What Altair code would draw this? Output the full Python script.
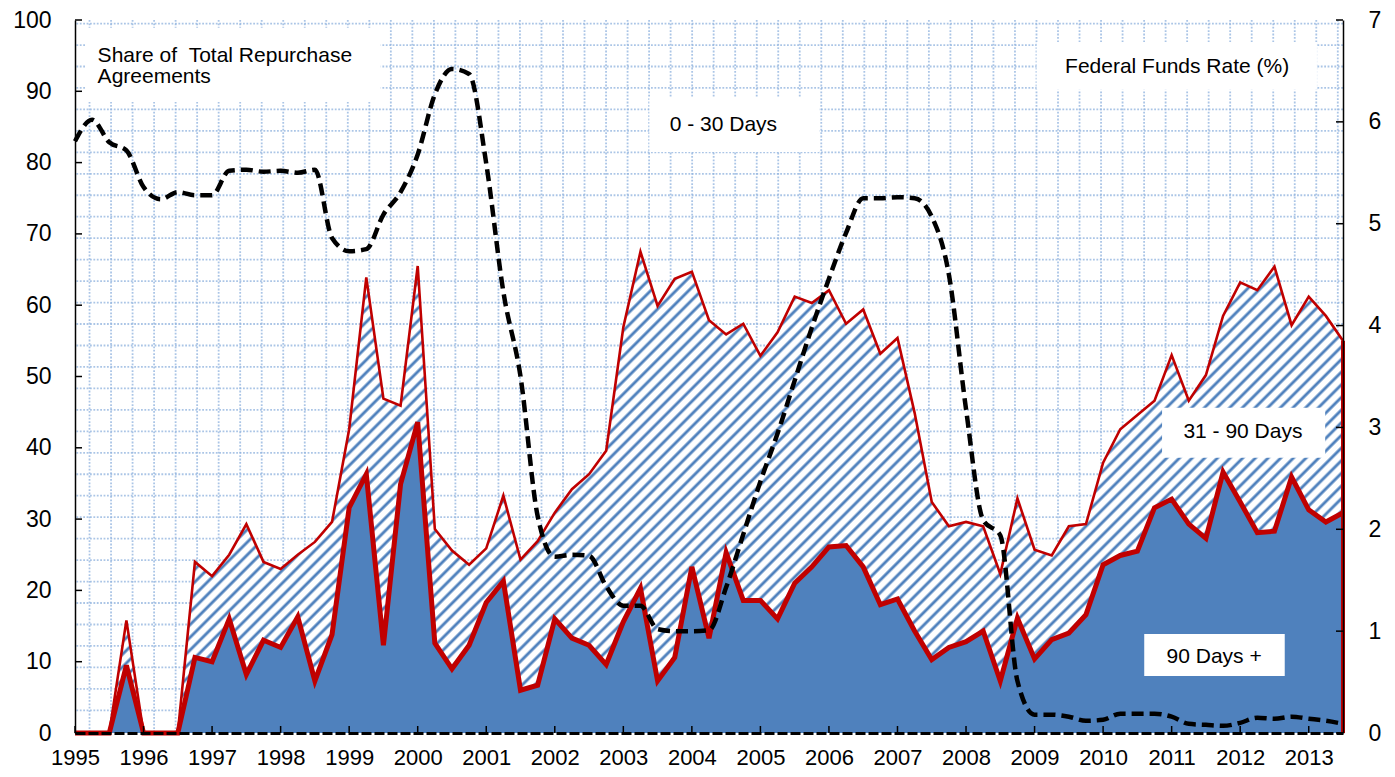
import altair as alt
import numpy as np
import pandas as pd

# ---------------- data ----------------
first_year = 1995
quarters_per_year = 4
n_quarters = 75  # 1995Q1 .. 2013Q3

share_90_plus = [
    0, 0, 0, 9.5,          # 1995
    0, 0, 0, 10.6,         # 1996
    10.0, 16.0, 8.2, 13.0,  # 1997
    12.0, 16.3, 7.3, 13.8,  # 1998
    31.6, 36.3, 12.3, 34.9,  # 1999
    43.6, 12.6, 9.0, 12.3,  # 2000
    18.3, 21.3, 6.0, 6.7,   # 2001
    16.0, 13.3, 12.3, 9.6,  # 2002
    15.6, 20.3, 7.3, 10.6,  # 2003
    23.3, 13.3, 25.3, 18.6,  # 2004
    18.6, 16.0, 21.0, 23.3,  # 2005
    26.1, 26.3, 23.3, 18.0,  # 2006
    18.8, 14.3, 10.3, 12.0,  # 2007
    12.8, 14.3, 7.3, 16.1,  # 2008
    10.4, 13.1, 14.0, 16.6,  # 2009
    23.6, 24.9, 25.5, 31.6,  # 2010
    32.8, 29.3, 27.3, 36.6,  # 2011
    32.4, 28.1, 28.3, 35.9,  # 2012
    31.3, 29.6, 30.9,       # 2013
]

share_31_90 = [
    0, 0, 0, 6.3,
    0, 0, 0, 13.4,
    12.0, 9.0, 21.1, 11.0,
    11.0, 8.7, 19.5, 15.8,
    11.0, 27.6, 34.6, 11.0,
    21.9, 16.0, 16.6, 11.3,
    7.6, 12.0, 18.3, 20.2,
    14.9, 20.9, 24.0, 30.0,
    41.3, 47.2, 52.6, 53.1,
    41.4, 44.6, 30.6, 38.8,
    34.3, 40.2, 40.2, 37.0,
    36.0, 31.1, 36.1, 35.2,
    36.6, 30.6, 22.1, 17.0,
    16.8, 14.7, 15.0, 16.8,
    15.3, 11.8, 15.0, 12.7,
    14.3, 17.7, 19.1, 15.0,
    20.2, 17.3, 22.9, 21.9,
    30.8, 34.0, 37.1, 21.3,
    29.9, 28.9, 24.1,
]

fed_funds_rate = [
    5.81, 6.02, 5.80, 5.72,
    5.36, 5.24, 5.31, 5.28,
    5.28, 5.52, 5.53, 5.51,
    5.52, 5.50, 5.53, 4.86,
    4.73, 4.75, 5.09, 5.31,
    5.68, 6.27, 6.52, 6.47,
    5.59, 4.33, 3.50, 2.13,
    1.73, 1.75, 1.74, 1.44,
    1.25, 1.25, 1.02, 1.00,
    1.00, 1.01, 1.43, 1.95,
    2.47, 2.94, 3.46, 3.98,
    4.46, 4.91, 5.25, 5.25,
    5.26, 5.25, 5.07, 4.50,
    3.18, 2.09, 1.94, 0.51,
    0.18, 0.18, 0.16, 0.12,
    0.13, 0.19, 0.19, 0.19,
    0.16, 0.09, 0.08, 0.07,
    0.10, 0.15, 0.14, 0.16,
    0.14, 0.12, 0.09,
]

year_ticks = list(range(1995, 2014))
left_ticks = list(range(0, 101, 10))
right_ticks = list(range(0, 8))

# ---------------- layout / style ----------------
W, H = 1268, 713
BLUE = "#4F81BD"
RED = "#C00000"
GRID = "#8FB1DE"
FONT = "Liberation Sans"

quarter_pos = [first_year + i / quarters_per_year for i in range(n_quarters)]
df = pd.DataFrame({
    "t": quarter_pos,
    "p90": share_90_plus,
    "p3190": share_31_90,
    "ffr": fed_funds_rate,
})
df["upper"] = df["p90"] + df["p3190"]

xs = alt.Scale(domain=[1995, 2013.5], nice=False, zero=False)
yl = alt.Scale(domain=[0, 100], nice=False)
yr = alt.Scale(domain=[0, 7], nice=False)

x_axis = alt.Axis(values=year_ticks, format="d", title=None, grid=False,
                  tickSize=0, labelPadding=14, labelFontSize=22, labelFont=FONT,
                  labelColor="black", domainColor="black", domainWidth=3,
                  domainDash=[10, 3], labelFlush=False, labelOverlap=False,
                  zindex=2)
yl_axis = alt.Axis(values=left_ticks, title=None, grid=False, tickSize=0,
                   labelPadding=24, labelFontSize=23, labelFont=FONT,
                   labelColor="black", domainColor="black", domainWidth=1.5,
                   zindex=2)
yr_axis = alt.Axis(values=right_ticks, title=None, grid=False, tickSize=0,
                   orient="right", labelPadding=25, labelFontSize=23,
                   labelFont=FONT, labelColor="black", domainColor="black",
                   domainWidth=1.5, zindex=2)


def X(field):
    return alt.X(field, scale=xs, axis=x_axis)


def YL(field, **kw):
    return alt.Y(field, scale=yl, axis=yl_axis, **kw)


def YR(field):
    return alt.Y(field, scale=yr, axis=yr_axis)


# background dotted grid pattern (decoration of the "0 - 30 Days" area)
grid_v = pd.DataFrame({"gx": 1995.212 + 0.314 * np.arange(59)})
grid_h = pd.DataFrame({"gy": 99.5 - 3.01 * np.arange(34)})

grid_style = dict(color=GRID, strokeWidth=1.8, strokeDash=[1.8, 1.6], opacity=0.75)
gv = alt.Chart(grid_v).mark_rule(**grid_style).encode(x=X("gx:Q"))
gh = alt.Chart(grid_h).mark_rule(**grid_style).encode(y=YL("gy:Q"))


# diagonal hatch for "31 - 90 Days" as a striped linear gradient
def hatch(h_px, w_px, period=9.0, k=1.3):
    ratio = h_px / w_px
    span = k * (w_px + h_px ** 2 / w_px) / np.sqrt(2)
    n = int(np.ceil(span / period))
    pattern = [(0.0, "white"), (0.3, "white"), (0.5, BLUE),
               (0.62, BLUE), (0.82, "white")]
    stops = []
    for j in range(n):
        for off, col in pattern:
            stops.append(alt.GradientStop(offset=round((j + off) / n, 6), color=col))
    stops.append(alt.GradientStop(offset=1, color="white"))
    return alt.LinearGradient(gradient="linear", stops=stops,
                              x1=0, y1=0, x2=k, y2=k * ratio)


hatch_h = df["upper"].max() / 100 * H

hatch_area = alt.Chart(df).mark_area(color=hatch(hatch_h, W), strokeWidth=0).encode(
    x=X("t:Q"), y=YL("upper:Q", stack=None))
solid_area = alt.Chart(df).mark_area(color=BLUE, strokeWidth=0).encode(
    x=X("t:Q"), y=YL("p90:Q", stack=None))
upper_line = alt.Chart(df).mark_line(color=RED, strokeWidth=2.6).encode(
    x=X("t:Q"), y=YL("upper:Q"))
lower_line = alt.Chart(df).mark_line(color=RED, strokeWidth=5).encode(
    x=X("t:Q"), y=YL("p90:Q"))
end_edge = alt.Chart(df.tail(1)).mark_rule(color=RED, strokeWidth=4).encode(
    x=X("t:Q"), y=YL("upper:Q"), y2=alt.datum(0))

# annotation boxes and texts (in data units)
boxes = pd.DataFrame({
    "x1": [1995.15, 2009.03, 2003.38, 2010.86, 2010.60],
    "x2": [1999.46, 2013.12, 2005.86, 2013.24, 2012.65],
    "y1": [88.5, 90.2, 81.5, 38.6, 8.0],
    "y2": [98.9, 96.9, 89.2, 45.6, 13.9],
})
box_layer = alt.Chart(boxes).mark_rect(color="white").encode(
    x=X("x1:Q"), x2="x2:Q", y=YL("y1:Q"), y2="y2:Q")
left_notes = pd.DataFrame({
    "x": [1995.33, 1995.33],
    "y": [94.15, 91.1],
    "label": ["Share of \u00a0Total Repurchase", "Agreements"],
})
left_text = alt.Chart(left_notes).mark_text(
    align="left", baseline="alphabetic", fontSize=21, font=FONT, color="black"
).encode(x=X("x:Q"), y=YL("y:Q"), text="label:N")
center_notes = pd.DataFrame({
    "x": [2011.08, 2004.46, 2012.04, 2011.62],
    "y": [93.4, 85.3, 42.2, 10.7],
    "label": ["Federal Funds Rate (%)", "0 - 30 Days", "31 - 90 Days", "90 Days +"],
})
center_text = alt.Chart(center_notes).mark_text(
    align="center", baseline="middle", fontSize=21, font=FONT, color="black"
).encode(x=X("x:Q"), y=YL("y:Q"), text="label:N")

# inward tick marks
xt = alt.Chart(pd.DataFrame({"yr": year_ticks})).mark_rule(
    color="black", strokeWidth=1.5).encode(
    x=X("yr:Q"), y=alt.value(H), y2=alt.value(H - 7))
lt = alt.Chart(pd.DataFrame({"v": left_ticks})).mark_rule(
    color="black", strokeWidth=1.5).encode(
    y=YL("v:Q"), x=alt.value(0), x2=alt.value(7))

left_group = alt.layer(gv, gh, hatch_area, solid_area, upper_line, lower_line,
                       end_edge, box_layer, left_text, center_text, xt, lt)

ffr_line = alt.Chart(df).mark_line(
    color="black", strokeWidth=4.5, strokeDash=[12, 6], strokeCap="butt",
    interpolate="monotone").encode(x=X("t:Q"), y=YR("ffr:Q"))
rt = alt.Chart(pd.DataFrame({"v": right_ticks})).mark_rule(
    color="black", strokeWidth=1.5).encode(
    y=YR("v:Q"), x=alt.value(W - 7), x2=alt.value(W))
right_group = alt.layer(ffr_line, rt)

chart = alt.layer(left_group, right_group).resolve_scale(y="independent").properties(
    width=W, height=H,
    padding={"left": 67, "top": 12, "right": 44, "bottom": 40},
    autosize=alt.AutoSizeParams(type="none"),
    background="white",
).configure_view(stroke=None)

chart.save("out.html", embed_options={"renderer": "svg", "actions": False})
